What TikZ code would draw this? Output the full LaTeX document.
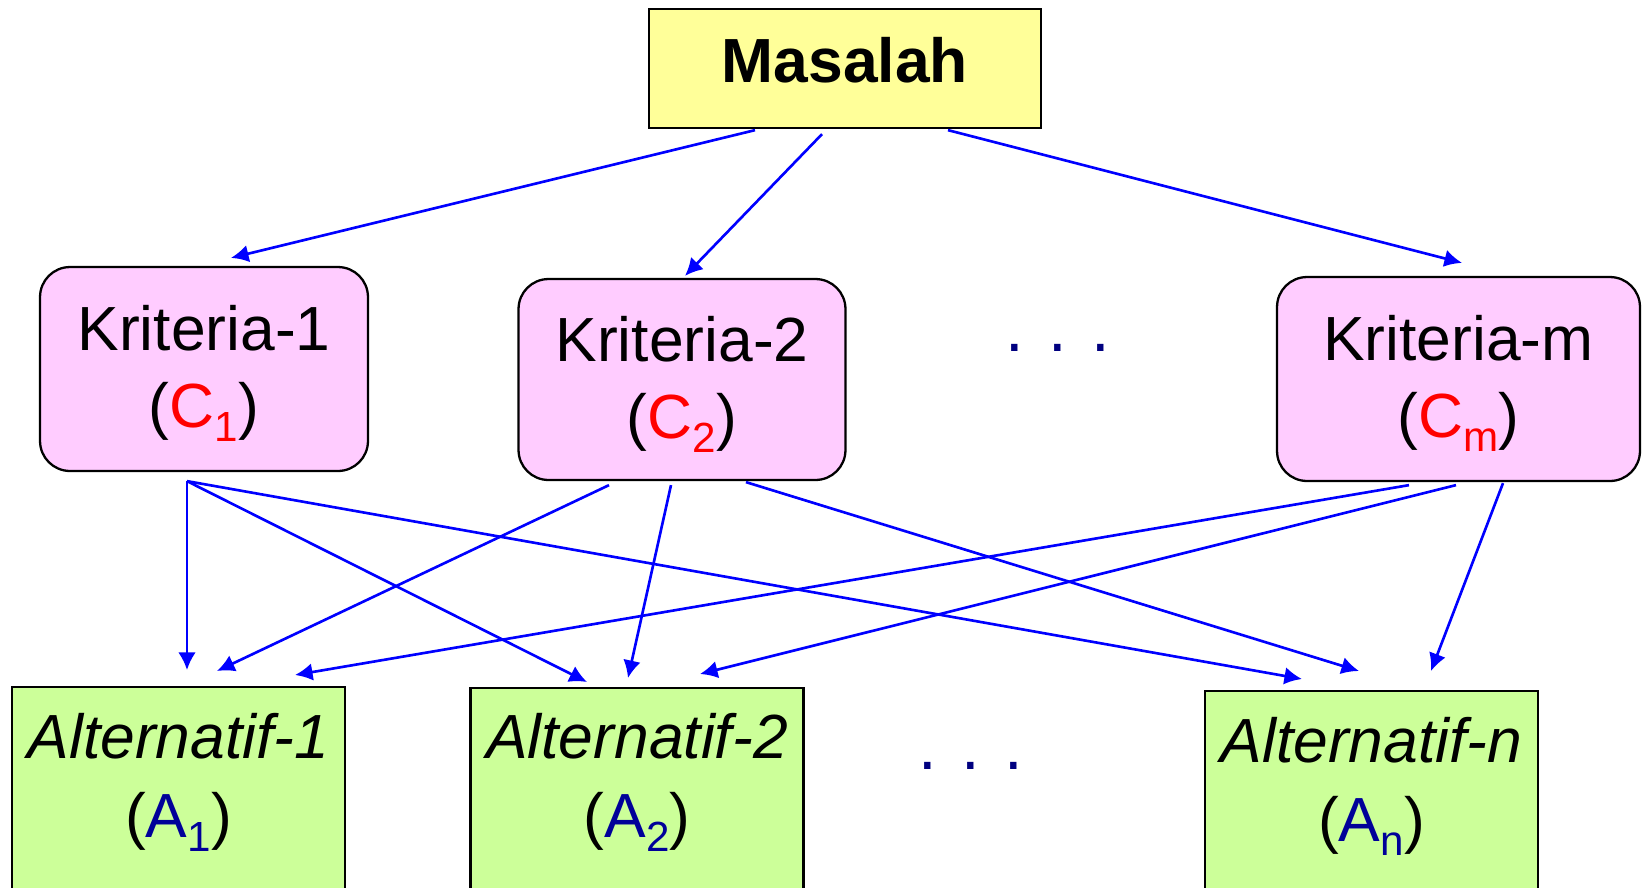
\documentclass[tikz,border=0pt]{standalone}
\usepackage{fontspec}
\setmainfont{Liberation Sans}
\usetikzlibrary{arrows.meta,calc}

\definecolor{kuning}{HTML}{FFFF99}
\definecolor{merahmuda}{HTML}{FFCCFF}
\definecolor{hijau}{HTML}{CCFF99}
\definecolor{biru}{HTML}{0000FF}
\definecolor{birutua}{HTML}{000099}
\definecolor{navy}{HTML}{000080}
\newcommand{\bawah}[1]{\raisebox{-8pt}{\fontsize{24}{24}\selectfont #1}}
\newcommand{\atas}{\rule{0pt}{31pt}}

\tikzset{
	masalah/.style={draw=black, line width=1.3pt, fill=kuning, minimum width=7.84cm, minimum height=2.38cm, font=\fontsize{35.5}{44}\selectfont\bfseries, text depth=10pt},
	kriteria/.style={draw=black, line width=1.3pt, fill=merahmuda, rounded corners=0.6cm, minimum height=4.08cm, align=center, font=\fontsize{35.5}{44}\selectfont},
	alternatif/.style={draw=black, line width=1.3pt, fill=hijau, minimum width=6.66cm, minimum height=5cm, anchor=north},
	alttext/.style={anchor=north, inner sep=0pt, align=center, font=\fontsize{35.5}{45}\selectfont},
	titik/.style={anchor=base, inner sep=0pt, text=navy, font=\fontsize{38}{38}\selectfont},
	panah/.style={->, draw=biru, line width=1.5pt}
}

\begin{document}
\begin{tikzpicture}[x=0.02cm, y=-0.02cm, >={Latex[length=10pt,width=10pt]}]
		\useasboundingbox (0,0) rectangle (1643,887);
		\clip (0,0) rectangle (1643,887);
		% masalah
		\node[masalah] (masalah) at (845,68.5) {Masalah};
		% kriteria
		\node[kriteria, minimum width=6.56cm] (k1) at (204,369) {\atas Kriteria-1\\(\textcolor{red}{C\bawah{1}})};
		\node[kriteria, minimum width=6.54cm, minimum height=4.02cm] (k2) at (682,379.5) {\atas Kriteria-2\\(\textcolor{red}{C\bawah{2}})};
		\node[kriteria, minimum width=7.26cm] (km) at (1458.5,379) {\atas Kriteria-m\\(\textcolor{red}{C\bawah{m}})};
		\node[titik] (tk) at (1058,351) {. . .};
		% alternatif
		\node[alternatif] (a1) at (178.5,686) {};
		\node[alternatif] (a2) at (637,687) {};
		\node[alternatif] (an) at (1371.5,690) {};
		\node[alttext] (a1t) at ($(a1.north)+(0,26.5)$) {\itshape Alternatif-1\\(\textcolor{birutua}{A\bawah{1}})};
		\node[alttext] (a2t) at ($(a2.north)+(0,25.5)$) {\itshape Alternatif-2\\(\textcolor{birutua}{A\bawah{2}})};
		\node[alttext] (ant) at ($(an.north)+(0,27)$) {\itshape Alternatif-n\\(\textcolor{birutua}{A\bawah{n}})};
		\node[titik] (ta) at (971,769) {. . .};
		% panah masalah ke kriteria
		\draw[panah] ($(masalah.south)+(-90,1)$) -- ($(k1.north)+(27,-8)$);
		\draw[panah] ($(masalah.south)+(-23,5)$) -- ($(k2.north)+(3,-2)$);
		\draw[panah] ($(masalah.south)+(103,1)$) -- ($(km.north)+(3.5,-13)$);
		% panah kriteria ke alternatif
		\draw[panah] ($(k1.south)+(-17,9)$) -- ($(a1.north)+(8.5,-16)$);
		\draw[panah] ($(k1.south)+(-17,9)$) -- ($(a2.north)+(-50,-5)$);
		\draw[panah] ($(k1.south)+(-17,9)$) -- ($(an.north)+(-69.5,-11)$);
		\draw[panah] ($(k2.south)+(-73,4)$) -- ($(a1.north)+(38.5,-15)$);
		\draw[panah] ($(k2.south)+(-11,4)$) -- ($(a2.north)+(-9,-9)$);
		\draw[panah] ($(k2.south)+(64,1)$) -- ($(an.north)+(-12.5,-19)$);
		\draw[panah] ($(km.south)+(-49.5,3)$) -- ($(a1.north)+(116.5,-11)$);
		\draw[panah] ($(km.south)+(-2.5,3)$) -- ($(a2.north)+(63,-13)$);
		\draw[panah] ($(km.south)+(44.5,1)$) -- ($(an.north)+(59.5,-19)$);
\end{tikzpicture}
\end{document}
